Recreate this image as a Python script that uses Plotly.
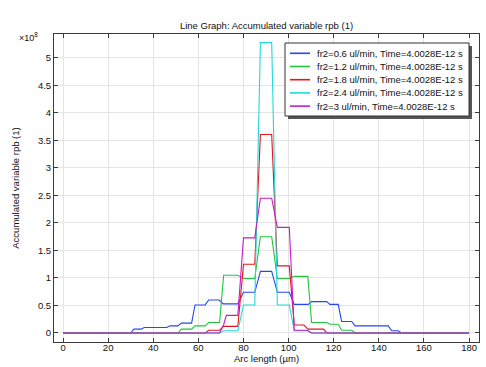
import plotly.graph_objects as go

# ---- data (rpb values in units of 1e8) ----
series_names = [
    "fr2=0.6 ul/min, Time=4.0028E-12 s",
    "fr2=1.2 ul/min, Time=4.0028E-12 s",
    "fr2=1.8 ul/min, Time=4.0028E-12 s",
    "fr2=2.4 ul/min, Time=4.0028E-12 s",
    "fr2=3 ul/min, Time=4.0028E-12 s",
]

arc_06 = [0, 30, 31.4, 34.6, 36, 46, 47.4, 51, 52.4, 57, 58.5, 63, 64.6, 69.2, 71, 77.5, 80, 85, 87.5, 92.5,
          95, 100.3, 102.5, 108.7, 110.2, 116.9, 118.3, 122, 123.5, 128, 129.4, 144.2, 145.7, 148.6, 150.1, 180]
rpb_06 = [0, 0, 0.07, 0.07, 0.10, 0.10, 0.13, 0.13, 0.18, 0.18, 0.51, 0.51, 0.60, 0.60, 0.53, 0.53, 0.74, 0.74, 1.12, 1.12,
          0.74, 0.74, 0.52, 0.52, 0.57, 0.57, 0.52, 0.52, 0.21, 0.21, 0.13, 0.13, 0.04, 0.04, 0, 0]

arc_12 = [0, 51, 52.4, 57, 58.5, 63, 64.6, 69.4, 71.2, 77.5, 80, 85, 87.5, 92.5, 95, 100.3, 102.5,
          108.5, 110.2, 116.9, 118.3, 122, 123.5, 128, 129.4, 180]
rpb_12 = [0, 0, 0.07, 0.07, 0.13, 0.13, 0.19, 0.19, 1.05, 1.05, 0.99, 0.99, 1.75, 1.75, 0.99, 0.99, 1.03,
          1.03, 0.19, 0.19, 0.16, 0.16, 0.05, 0.05, 0, 0]

arc_18 = [0, 63, 64.6, 69.4, 71.2, 77.5, 80, 85, 87.5, 92.5, 95, 100.3, 102.5, 106.8, 108.6, 115.5, 117, 180]
rpb_18 = [0, 0, 0.05, 0.05, 0.12, 0.12, 1.25, 1.25, 3.61, 3.61, 1.22, 1.22, 0.145, 0.145, 0.07, 0.07, 0, 0]

arc_24 = [0, 69.4, 71.2, 77.5, 80, 85, 87.5, 92.5, 95, 100.3, 102.5, 108.6, 110.2, 180]
rpb_24 = [0, 0, 0.04, 0.04, 0.51, 0.51, 5.28, 5.28, 0.51, 0.51, 0.04, 0.04, 0, 0]

arc_30 = [0, 69.4, 71.2, 72.4, 77.5, 80, 85, 87.5, 92.5, 95, 100.3, 102.5, 108.2, 110.2, 180]
rpb_30 = [0, 0, 0.15, 0.32, 0.32, 1.73, 1.73, 2.45, 2.45, 1.92, 1.92, 0.05, 0.05, 0, 0]

x_ticks = [0, 20, 40, 60, 80, 100, 120, 140, 160, 180]
y_ticks = [0, 0.5, 1, 1.5, 2, 2.5, 3, 3.5, 4, 4.5, 5]

colors = ["#2448f4", "#22c43c", "#e8141c", "#22d8d8", "#c41cc8"]

FONT = "Liberation Sans, Arial, sans-serif"
FS = 9.5

W, H = 486, 367
L, R, T, B = 54, 7, 34, 25
PW, PH = W - L - R, H - T - B


def px_x(px):
    return (px - L) / PW


def px_y(py):
    return (H - B - py) / PH


fig = go.Figure()
for name, xs, ys, c in zip(series_names, [arc_06, arc_12, arc_18, arc_24, arc_30],
                           [rpb_06, rpb_12, rpb_18, rpb_24, rpb_30], colors):
    fig.add_trace(go.Scatter(x=xs, y=ys, mode="lines", name=name,
                             line=dict(color=c, width=1.1), showlegend=False))

axis_common = dict(
    showline=True, linecolor="#3a3a3a", linewidth=1, mirror="ticks",
    ticks="inside", ticklen=4, tickcolor="#3a3a3a", tickwidth=1,
    showgrid=True, gridcolor="#e4e4e4", gridwidth=1, zeroline=False,
    automargin=False,
    tickfont=dict(family=FONT, size=FS, color="#111"),
)

fig.update_layout(
    width=W, height=H,
    margin=dict(l=L, r=R, t=T, b=B, autoexpand=False),
    paper_bgcolor="white", plot_bgcolor="white",
    font=dict(family=FONT, size=FS, color="#111"),
    title=dict(text="Line Graph: Accumulated variable rpb (1)", x=(L + PW / 2) / W,
               xanchor="center", y=1 - 26 / H, yanchor="middle",
               font=dict(family=FONT, size=FS, color="#111")),
    xaxis=dict(range=[-4, 184.4], tickvals=x_ticks, ticklabelstandoff=-3,
               title=dict(text="Arc length (µm)", standoff=0,
                          font=dict(family=FONT, size=FS, color="#111")),
               **axis_common),
    yaxis=dict(range=[-0.164, 5.436], tickvals=y_ticks,
               title=dict(text="Accumulated variable rpb (1)", standoff=16,
                          font=dict(family=FONT, size=FS, color="#111")),
               **axis_common),
    showlegend=False,
)

# exponent label
fig.add_annotation(text="×10<sup>8</sup>", xref="paper", yref="paper",
                   x=px_x(40), y=px_y(37), xanchor="right", yanchor="middle",
                   showarrow=False, font=dict(family=FONT, size=FS - 0.5, color="#111"))

# legend box (shadow + frame)
bx0, by0, bx1, by1 = 285, 43, 469, 116
fig.add_shape(type="rect", xref="paper", yref="paper",
              x0=px_x(bx0 + 3), x1=px_x(bx1 + 3), y0=px_y(by0 + 3), y1=px_y(by1 + 3),
              fillcolor="#555555", line=dict(width=0), layer="above")
fig.add_shape(type="rect", xref="paper", yref="paper",
              x0=px_x(bx0), x1=px_x(bx1), y0=px_y(by0), y1=px_y(by1),
              fillcolor="white", line=dict(color="#333333", width=1), layer="above")
row_y = [53.3, 66.5, 79.7, 92.9, 106.1]
for name, c, ry in zip(series_names, colors, row_y):
    fig.add_shape(type="line", xref="paper", yref="paper",
                  x0=px_x(290), x1=px_x(310), y0=px_y(ry), y1=px_y(ry),
                  line=dict(color=c, width=1.6), layer="above")
    fig.add_annotation(text=name, xref="paper", yref="paper",
                       x=px_x(315), y=px_y(ry), xanchor="left", yanchor="middle",
                       showarrow=False, font=dict(family=FONT, size=FS, color="#111"))

fig.write_html("out.html", config={"displayModeBar": False},
               post_script="document.body.style.margin='0';")
